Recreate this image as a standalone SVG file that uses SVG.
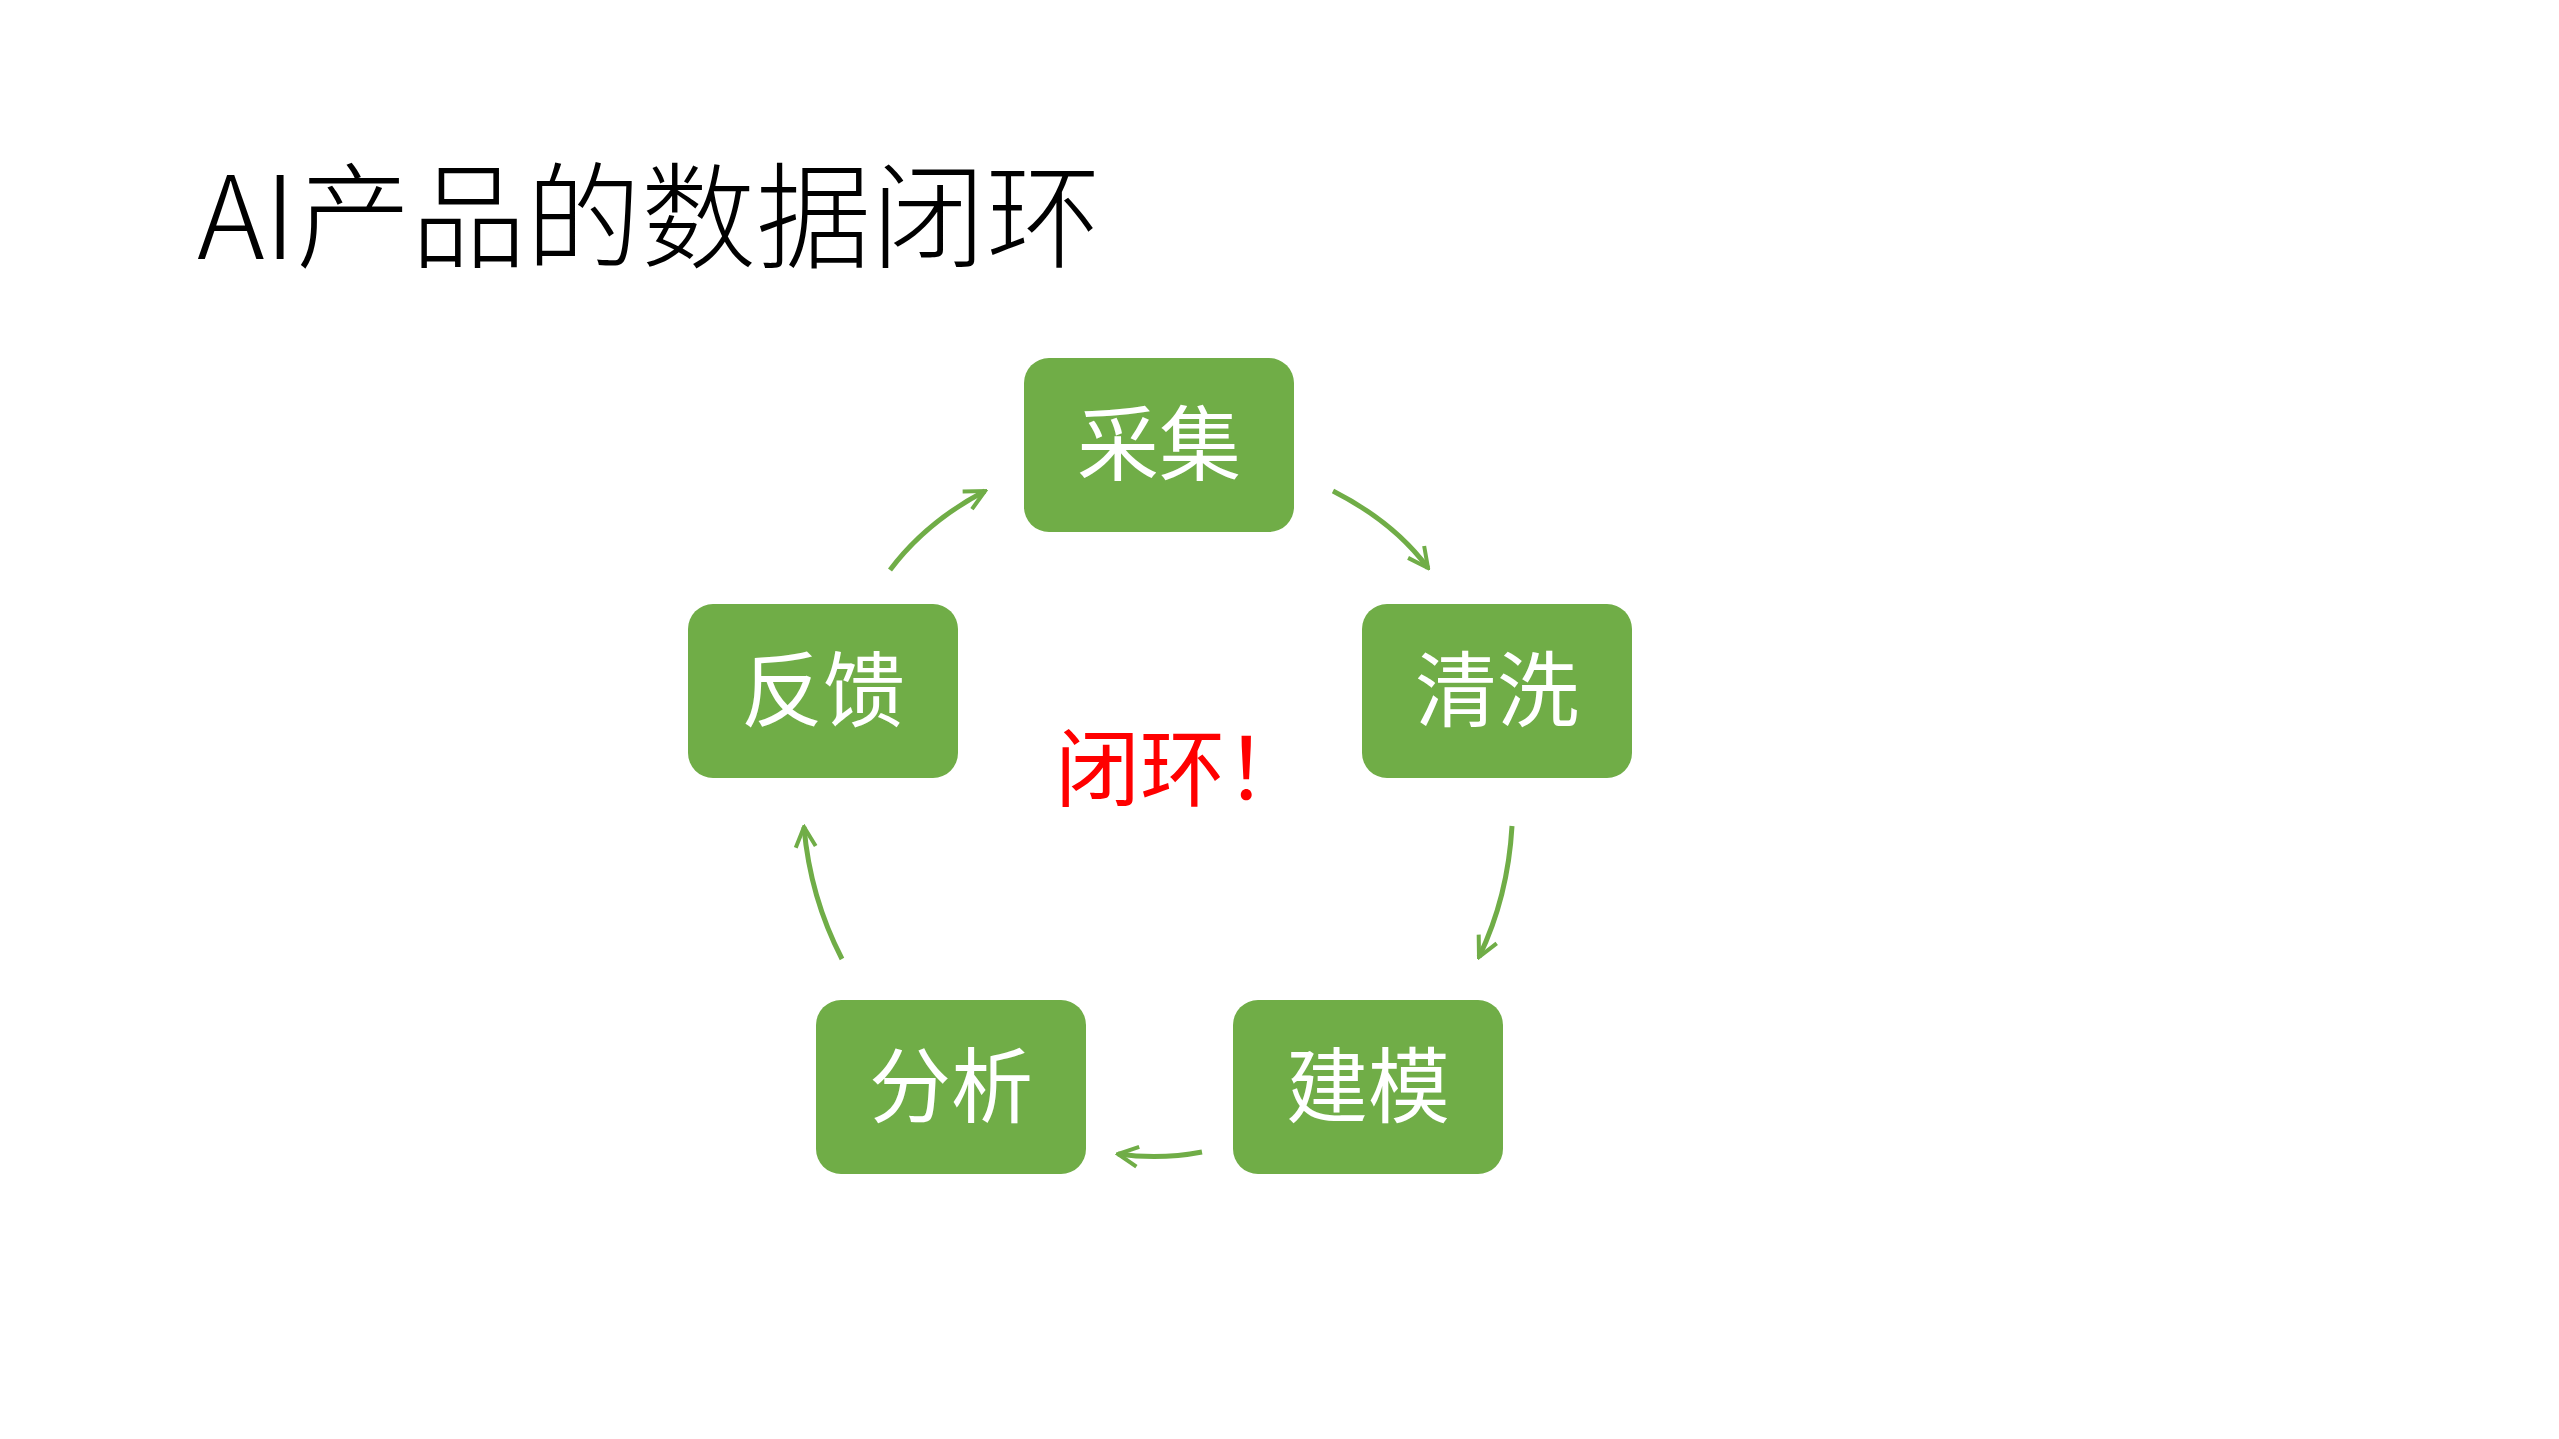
<svg xmlns="http://www.w3.org/2000/svg" width="2559" height="1439" viewBox="0 0 2559 1439">
<style>
.node rect{fill:#70AD47}
.node text{fill:#fff;font-family:"Noto Sans CJK SC",sans-serif;font-size:82px;text-anchor:middle}
.conn path{fill:none;stroke:#70AD47;stroke-width:5;marker-end:url(#ah)}
</style>
<defs>
<marker id="ah" viewBox="0 0 10 10" refX="9" refY="5" markerWidth="5" markerHeight="5" orient="auto" markerUnits="strokeWidth">
<path d="M1,1 L9,5 L1,9" fill="none" stroke="#70AD47" stroke-width="1.6"/>
</marker>
</defs>
<rect width="2559" height="1439" fill="#fff"/>
<text x="197" y="259" font-family="Noto Sans CJK SC,sans-serif" font-size="115" font-weight="300" fill="#000">AI产品的数据闭环</text>
<g id="n1" class="node"><rect x="1024" y="358" width="270" height="174" rx="25"/><text x="1159" y="474">采集</text></g>
<g id="n2" class="node"><rect x="1362" y="604" width="270" height="174" rx="25"/><text x="1497" y="720">清洗</text></g>
<g id="n3" class="node"><rect x="1233" y="1000" width="270" height="174" rx="25"/><text x="1368" y="1116">建模</text></g>
<g id="n4" class="node"><rect x="816" y="1000" width="270" height="174" rx="25"/><text x="951" y="1116">分析</text></g>
<g id="n5" class="node"><rect x="688" y="604" width="270" height="174" rx="25"/><text x="823" y="720">反馈</text></g>
<g id="label"><text x="1055" y="800" font-family="Noto Sans CJK SC,sans-serif" font-size="85" fill="#FF0000">闭环！</text></g>
<g id="connectors" class="conn">
<path d="M1333,491 Q1394,522 1428,568"/>
<path d="M1512,826 Q1508,897 1479,957"/>
<path d="M1202,1152 Q1160,1160 1118,1154"/>
<path d="M842,959 Q810,897 804,827"/>
<path d="M890,570 Q926,522 985,491"/>
</g>
</svg>
